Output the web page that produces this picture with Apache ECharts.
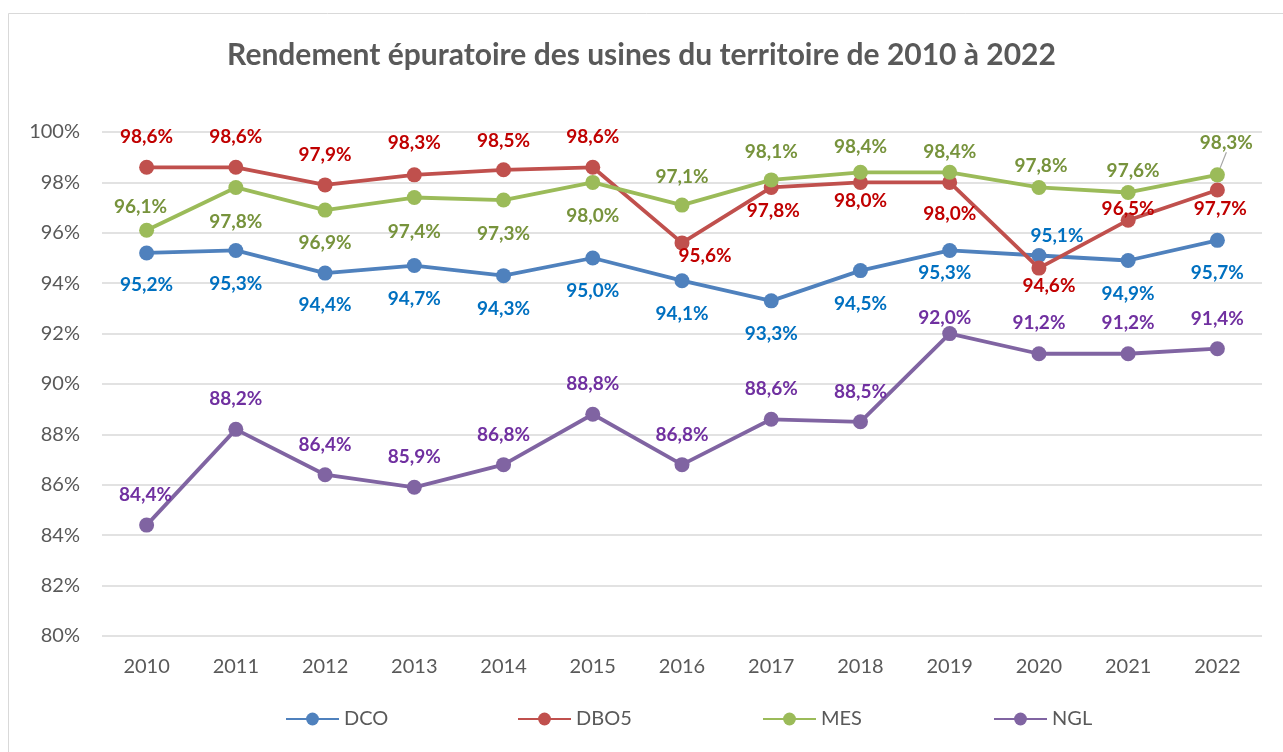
<!DOCTYPE html>
<html>
<head>
<meta charset="utf-8">
<script src="https://cdn.jsdelivr.net/npm/echarts@6/dist/echarts.min.js"></script>
<style>
html,body{margin:0;padding:0;background:#fff;}
#chart{width:1283px;height:752px;}
</style>
</head>
<body>
<div id="chart"></div>
<script>
const years = ['2010','2011','2012','2013','2014','2015','2016','2017','2018','2019','2020','2021','2022'];
const seriesNames = ['DCO','DBO5','MES','NGL'];
const dco  = [95.2, 95.3, 94.4, 94.7, 94.3, 95.0, 94.1, 93.3, 94.5, 95.3, 95.1, 94.9, 95.7];
const dbo5 = [98.6, 98.6, 97.9, 98.3, 98.5, 98.6, 95.6, 97.8, 98.0, 98.0, 94.6, 96.5, 97.7];
const mes  = [96.1, 97.8, 96.9, 97.4, 97.3, 98.0, 97.1, 98.1, 98.4, 98.4, 97.8, 97.6, 98.3];
const ngl  = [84.4, 88.2, 86.4, 85.9, 86.8, 88.8, 86.8, 88.6, 88.5, 92.0, 91.2, 91.2, 91.4];
const yTicks = { min: 80, max: 100, step: 2 };

// label placement (offset of label centre from the point), layout only
const dcoLab  = [[0,32],[0,33],[0,32],[0,33],[0,33],[0,33],[0,33],[0,33],[0,33],[-5,22],[18,-20],[0,33],[0,33]];
const dbo5Lab = [[0,-30],[0,-30],[0,-30],[0,-32],[0,-29],[0,-30],[23,13],[2,23],[0,18],[0,31],[10,18],[0,-11],[3,19]];
const mesLab  = [[-6,-23],[0,34],[0,33],[0,34],[0,34],[0,33],[0,-28],[0,-28],[0,-25],[0,-20],[2,-22],[5,-22],[9,-32]];
const nglLab  = [[-1,-30],[0,-30],[0,-30],[0,-30],[0,-30],[0,-30],[0,-30],[0,-30],[0,-30],[-5,-16],[0,-31],[0,-31],[0,-30]];
const leaderLines = [[], [], [12], []];

const lineColors  = ['#4F81BD','#C0504D','#9BBB59','#8064A2'];
const labelColors = ['#0070C0','#C00000','#77933C','#7030A0'];
const values = [dco, dbo5, mes, ngl];
const labs = [dcoLab, dbo5Lab, mesLab, nglLab];

const fmt = v => v.toFixed(1).replace('.', ',') + '%';
const FONT = 'Lato, "Open Sans", sans-serif';

const series = values.map((arr, s) => ({
  name: seriesNames[s],
  type: 'line',
  data: arr.map((v, i) => ({
    value: v,
    labelLine: { show: leaderLines[s].indexOf(i) >= 0, lineStyle: { color: '#A6A6A6', width: 1.2 } }
  })),
  symbol: 'circle',
  symbolSize: 15,
  itemStyle: { color: lineColors[s] },
  lineStyle: { color: lineColors[s], width: 3.8 },
  label: {
    show: true,
    position: 'inside',
    formatter: p => fmt(p.value),
    color: labelColors[s],
    fontFamily: FONT,
    fontWeight: 'bold',
    fontSize: 19
  },
  labelLayout: p => ({ dx: labs[s][p.dataIndex][0], dy: labs[s][p.dataIndex][1] }),
  emphasis: { disabled: true },
  animation: false,
  z: 2 + s
}));

const legendLefts = [280, 512, 757, 988];
const legends = seriesNames.map((n, i) => ({
  data: [n],
  left: legendLefts[i],
  top: 704,
  itemWidth: 53,
  itemHeight: 16,
  itemGap: 8,
  textStyle: { color: '#595959', fontFamily: FONT, fontSize: 20 },
  selectedMode: false
}));

const chart = echarts.init(document.getElementById('chart'));
chart.setOption({
  backgroundColor: '#fff',
  animation: false,
  title: {
    text: 'Rendement épuratoire des usines du territoire de 2010 à 2022',
    left: 'center',
    top: 35,
    textStyle: { color: '#595959', fontFamily: FONT, fontWeight: 'bold', fontSize: 30 }
  },
  graphic: [{
    type: 'rect',
    shape: { x: 8.5, y: 13.5, width: 1400, height: 900 },
    style: { fill: 'none', stroke: '#D9D9D9', lineWidth: 1 },
    silent: true, z: -1
  }],
  legend: legends,
  grid: { left: 102, right: 21, top: 132, bottom: 116, containLabel: false },
  xAxis: {
    type: 'category',
    data: years,
    boundaryGap: true,
    axisLine: { show: false },
    axisTick: { show: false },
    axisLabel: { color: '#595959', fontFamily: FONT, fontSize: 20, margin: 21 }
  },
  yAxis: {
    type: 'value',
    min: yTicks.min,
    max: yTicks.max,
    interval: yTicks.step,
    axisLine: { show: false },
    axisTick: { show: false },
    axisLabel: { color: '#595959', fontFamily: FONT, fontSize: 20, margin: 22, formatter: '{value}%' },
    splitLine: { lineStyle: { color: '#D9D9D9', width: 1.5 } }
  },
  series: series
});
</script>
</body>
</html>
